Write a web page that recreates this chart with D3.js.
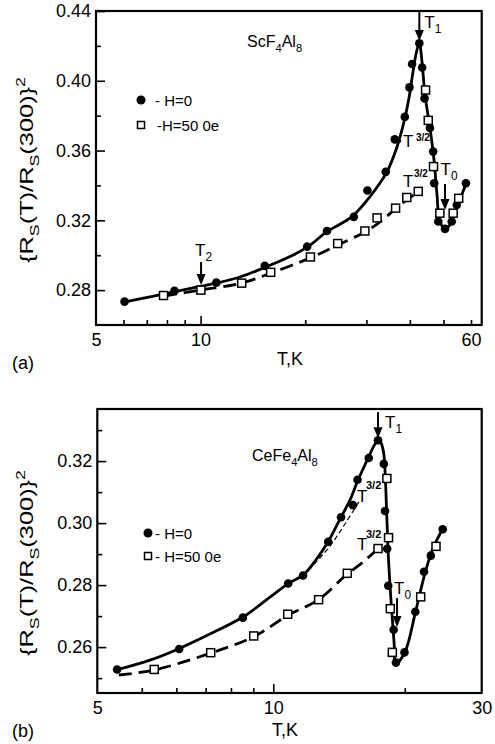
<!DOCTYPE html>
<html>
<head>
<meta charset="utf-8">
<script src="https://cdn.jsdelivr.net/npm/d3@7"></script>
<style>
  html, body { margin: 0; padding: 0; background: #fff; }
  svg { display: block; font-family: "Liberation Sans", Arial, Helvetica, sans-serif; }
</style>
</head>
<body>
<script>
// ---------- Panel (a): ScF4Al8 ----------
// measured points [T (K), {Rs(T)/Rs(300)}^2]
const aH0 = [
  [6.04, 0.2734], [8.41, 0.2796], [11.1, 0.2843], [15.3, 0.2939], [20.25, 0.3049],
  [23.1, 0.3139], [27.6, 0.3220], [30.2, 0.3371], [34.1, 0.3478], [36.2, 0.3664],
  [38.7, 0.3793], [39.9, 0.3962], [40.6, 0.4096], [42.6, 0.4215], [43.4, 0.4076],
  [44.1, 0.3899], [45.7, 0.3730], [46.7, 0.3594], [47.0, 0.3413], [48.3, 0.3193],
  [50.5, 0.3151], [52.8, 0.3193], [54.6, 0.3288], [58.0, 0.3413]
];
const aH500 = [
  [7.82, 0.2769], [10.02, 0.2800], [13.13, 0.2840], [15.91, 0.2902], [20.7, 0.2990],
  [24.8, 0.3067], [29.7, 0.3139], [32.2, 0.3214], [36.4, 0.3270], [39.2, 0.3331],
  [42.3, 0.3366], [44.4, 0.3947], [45.2, 0.3773], [46.8, 0.3508], [48.8, 0.3241],
  [53.3, 0.3241], [55.3, 0.3326]
];
// fitted curves
const aFitH0 = [
  [6.06, 0.2732], [7.15, 0.2761], [8.44, 0.2792], [9.96, 0.2821], [11.15, 0.2841],
  [12.98, 0.2875], [15.32, 0.2930], [18.08, 0.2992], [20.37, 0.3049], [23.1, 0.3135],
  [27.27, 0.3221], [30.72, 0.3336], [34.39, 0.3479], [36.74, 0.3622], [38.48, 0.3764],
  [39.78, 0.3901], [40.84, 0.4050], [41.8, 0.4165], [42.59, 0.4215], [43.36, 0.4108],
  [44.23, 0.3919], [45.72, 0.3729], [46.95, 0.3546], [47.9, 0.3345], [48.7, 0.3202],
  [50.5, 0.3148], [52.55, 0.3185], [54.69, 0.3277], [58.03, 0.3408]
];
const aFitH500 = [
  [7.85, 0.2766], [10.03, 0.2801], [13.16, 0.2841], [15.95, 0.2898], [20.64, 0.2984],
  [24.86, 0.3059], [29.72, 0.3133], [32.83, 0.3191], [37.48, 0.3288], [42.22, 0.3363]
];
const aFitT32 = [[33.48, 0.3431], [35.77, 0.3557], [37.72, 0.3661]];
const aYMajor = [0.28, 0.32, 0.36, 0.40, 0.44];
const aYMinor = [0.30, 0.34, 0.38, 0.42];
const aXMinor = [6, 7, 8, 9, 20, 30, 40, 50, 60];
const aXMajor = [10];
const aXLabelVals = [5, 10, 60];
const aXLabels = ["5", "10", "60"];

// ---------- Panel (b): CeFe4Al8 ----------
const bH0 = [
  [4.39, 0.2528], [6.09, 0.2594], [8.52, 0.2695], [10.82, 0.2805], [11.7, 0.2831],
  [13.36, 0.2940], [14.29, 0.3019], [15.22, 0.3058], [15.59, 0.3140], [16.54, 0.3210],
  [17.37, 0.3267], [17.91, 0.3191], [18.02, 0.3039], [18.23, 0.2917], [18.33, 0.2798],
  [18.86, 0.2656], [19.09, 0.2550], [19.97, 0.2583], [21.14, 0.2714], [22.13, 0.2843],
  [22.94, 0.2895], [24.43, 0.2980]
];
const bH500 = [
  [5.34, 0.2528], [7.19, 0.2582], [9.02, 0.2636], [10.79, 0.2706], [12.7, 0.2753],
  [14.77, 0.2838], [17.37, 0.2918], [18.2, 0.3144], [18.36, 0.2953], [18.53, 0.2724],
  [18.73, 0.2583], [21.75, 0.2762], [23.58, 0.2925]
];
const bFitH0 = [
  [4.39, 0.2527], [5.22, 0.2558], [6.08, 0.2595], [7.16, 0.2642], [8.52, 0.2697],
  [9.83, 0.2761], [10.81, 0.2805], [11.70, 0.2832], [12.52, 0.2881], [13.34, 0.2939],
  [14.29, 0.3019], [14.98, 0.3074], [15.63, 0.3139], [16.13, 0.3181], [16.65, 0.3223],
  [17.10, 0.3255], [17.37, 0.3265], [17.65, 0.3258], [17.88, 0.3229], [18.02, 0.3171],
  [18.17, 0.3042], [18.36, 0.2881], [18.65, 0.2726], [18.90, 0.2616], [19.10, 0.2548],
  [20.02, 0.2584], [21.16, 0.2713], [22.25, 0.2839], [23.21, 0.2919], [24.42, 0.2981]
];
const bFitH500 = [
  [4.43, 0.2510], [5.33, 0.2526], [7.20, 0.2581], [9.03, 0.2634], [10.81, 0.2703],
  [12.66, 0.2752], [14.75, 0.2835], [16.05, 0.2874], [17.37, 0.2918]
];
const bFitT32 = [[11.70, 0.2829], [12.52, 0.2874], [13.49, 0.2926], [14.59, 0.2997], [15.79, 0.3074]];
const bYMajor = [0.26, 0.28, 0.30, 0.32];
const bYMinor = [0.25, 0.27, 0.29, 0.31, 0.33];
const bXStart = 3.955;
const bXMinor = [5, 6, 7, 8, 9, 20];
const bXMajor = [10];
const bXLabelVals = [bXStart, 10, 30];
const bXLabels = ["5", "10", "30"];

// ---------- drawing ----------
const W = 495, H = 744;
const svg = d3.select("body").append("svg").attr("width", W).attr("height", H);

// text with subscript / superscript runs
function rich(parent, x, y, parts, size, anchor) {
  const t = parent.append("text").attr("x", x).attr("y", y)
    .attr("font-size", size).attr("text-anchor", anchor || "start").attr("fill", "#000");
  let cur = 0;
  parts.forEach(([s, k]) => {
    const target = k === "sub" ? size * 0.32 : k === "sup" ? -size * 0.42 : 0;
    const sp = t.append("tspan").text(s).attr("dy", target - cur).attr("fill", "#000");
    if (k) sp.attr("font-size", size * 0.7);
    cur = target;
  });
  return t;
}

function arrow(g, x, y1, y2) {
  g.append("line").attr("x1", x).attr("x2", x).attr("y1", y1).attr("y2", y2 - 8)
    .attr("stroke", "#000").attr("stroke-width", 2);
  g.append("path").attr("d", `M${x - 4.5},${y2 - 11}L${x + 4.5},${y2 - 11}L${x},${y2}Z`).attr("fill", "#000");
}

function panel(cfg) {
  const { x, y, h0, h500, fitH0, fitH500, fitT32 } = cfg;
  const g = svg.append("g");
  const [x0, x1] = x.range(), [y0, y1] = y.range();

  // axes: inward ticks
  const xAxis = g.append("g").attr("transform", `translate(0,${y0})`);
  xAxis.call(d3.axisBottom(x).tickValues(cfg.xMinor).tickSize(-5).tickFormat(() => ""));
  xAxis.append("g").call(d3.axisBottom(x).tickValues(cfg.xMajor).tickSize(-9).tickFormat(() => ""));
  g.append("g").attr("transform", `translate(0,${y0})`)
    .call(d3.axisBottom(x).tickValues(cfg.xLabelVals).tickSize(0).tickPadding(8)
      .tickFormat((d, i) => cfg.xLabels[i]));
  const yAxis = g.append("g").attr("transform", `translate(${x0},0)`);
  yAxis.call(d3.axisLeft(y).tickValues(cfg.yMinor).tickSize(-5).tickFormat(() => ""));
  yAxis.append("g").call(d3.axisLeft(y).tickValues(cfg.yMajor).tickSize(-9).tickPadding(5)
    .tickFormat(d3.format(".2f")));
  g.selectAll(".domain").remove();
  g.selectAll(".tick line").attr("stroke", "#000").attr("stroke-width", 1.6);
  g.selectAll(".tick text").attr("font-size", 18).attr("fill", "#000")
    .attr("font-family", "Liberation Sans, Arial, sans-serif");

  // frame
  g.append("rect").attr("x", x0).attr("y", y1).attr("width", x1 - x0).attr("height", y0 - y1)
    .attr("fill", "none").attr("stroke", "#000").attr("stroke-width", 2.2);

  const line = d3.line().x(d => x(d[0])).y(d => y(d[1])).curve(d3.curveCatmullRom.alpha(0.5));
  g.append("path").attr("d", line(fitT32)).attr("fill", "none").attr("stroke", "#000")
    .attr("stroke-width", 1.2).attr("stroke-dasharray", "5,3");
  g.append("path").attr("d", line(fitH500)).attr("fill", "none").attr("stroke", "#000")
    .attr("stroke-width", 2.8).attr("stroke-dasharray", "13,7");
  g.append("path").attr("d", line(fitH0)).attr("fill", "none").attr("stroke", "#000")
    .attr("stroke-width", 2.8);

  g.selectAll("circle.h0").data(h0).join("circle").attr("class", "h0")
    .attr("cx", d => x(d[0])).attr("cy", d => y(d[1])).attr("r", 4.3).attr("fill", "#000");
  g.selectAll("rect.h500").data(h500).join("rect").attr("class", "h500")
    .attr("x", d => x(d[0]) - 4).attr("y", d => y(d[1]) - 4).attr("width", 8).attr("height", 8)
    .attr("fill", "#fff").attr("stroke", "#000").attr("stroke-width", 1.5);
  return g;
}

// ----- panel (a)
const xA = d3.scaleLog().domain([5, 64.4]).range([96, 481.7]);
const yA = d3.scaleLinear().domain([0.26, 0.44]).range([325, 11]);
const gA = panel({
  x: xA, y: yA, h0: aH0, h500: aH500, fitH0: aFitH0, fitH500: aFitH500, fitT32: aFitT32,
  xMinor: aXMinor, xMajor: aXMajor, xLabelVals: aXLabelVals, xLabels: aXLabels,
  yMajor: aYMajor, yMinor: aYMinor
});
rich(gA, 247, 47, [["ScF"], ["4", "sub"], ["Al"], ["8", "sub"]], 16);
arrow(gA, xA(42.6), yA(0.4394), yA(0.4228));
rich(gA, xA(42.6) + 5, 28, [["T"], ["1", "sub"]], 17);
arrow(gA, xA(10.03), yA(0.2961), yA(0.2829));
rich(gA, xA(10.03) - 6, 256, [["T"], ["2", "sub"]], 17);
arrow(gA, xA(50.5), yA(0.3408), yA(0.3259));
rich(gA, xA(50.5) - 4.5, 175, [["T"], ["0", "sub"]], 17);
gA.append("text").attr("x", 403).attr("y", 147).attr("font-size", 17).text("T");
gA.append("text").attr("x", 416).attr("y", 141).attr("font-size", 10).attr("font-weight", "bold").text("3/2");
gA.append("text").attr("x", 403).attr("y", 187).attr("font-size", 17).text("T");
gA.append("text").attr("x", 414).attr("y", 177).attr("font-size", 10).attr("font-weight", "bold").text("3/2");
// legend
gA.append("circle").attr("cx", 141).attr("cy", 100).attr("r", 4.5).attr("fill", "#000");
gA.append("text").attr("x", 155).attr("y", 105.5).attr("font-size", 15).text("- H=0");
gA.append("rect").attr("x", 137.5).attr("y", 121.5).attr("width", 7).attr("height", 7)
  .attr("fill", "#fff").attr("stroke", "#000").attr("stroke-width", 1.5);
gA.append("text").attr("x", 157).attr("y", 130.5).attr("font-size", 15).text("-H=50 0e");
// titles
rich(gA, 290, 365, [["T,K"]], 18, "middle");
rich(gA.append("g").attr("transform", "translate(33,170) rotate(-90)"), 0, 0,
  [["{R"], ["S", "sub"], ["(T)/R"], ["S", "sub"], ["(300)}"], ["2", "sup"]], 18, "middle")
  .attr("textLength", 186).attr("lengthAdjust", "spacingAndGlyphs");
gA.append("text").attr("x", 12).attr("y", 369).attr("font-size", 18).text("(a)");

// ----- panel (b)
const xB = d3.scaleLog().domain([bXStart, 30]).range([97.3, 481.7]);
const yB = d3.scaleLinear().domain([0.2452, 0.3368]).range([693, 409]);
const gB = panel({
  x: xB, y: yB, h0: bH0, h500: bH500, fitH0: bFitH0, fitH500: bFitH500, fitT32: bFitT32,
  xMinor: bXMinor, xMajor: bXMajor, xLabelVals: bXLabelVals, xLabels: bXLabels,
  yMajor: bYMajor, yMinor: bYMinor
});
rich(gB, 252, 461, [["CeFe"], ["4", "sub"], ["Al"], ["8", "sub"]], 16);
arrow(gB, xB(17.37), yB(0.3358), yB(0.3274));
rich(gB, xB(17.37) + 7, 428, [["T"], ["1", "sub"]], 17);
arrow(gB, xB(19.2), yB(0.2758), yB(0.2665));
rich(gB, xB(19.2) - 3, 594, [["T"], ["0", "sub"]], 17);
gB.append("text").attr("x", 357).attr("y", 502).attr("font-size", 17).text("T");
gB.append("text").attr("x", 366).attr("y", 489).attr("font-size", 11).attr("font-weight", "bold").text("3/2");
gB.append("text").attr("x", 357).attr("y", 550).attr("font-size", 17).text("T");
gB.append("text").attr("x", 366).attr("y", 538).attr("font-size", 11).attr("font-weight", "bold").text("3/2");
// legend
gB.append("circle").attr("cx", 148).attr("cy", 533).attr("r", 4.5).attr("fill", "#000");
gB.append("text").attr("x", 155).attr("y", 538.5).attr("font-size", 15).text("- H=0");
gB.append("rect").attr("x", 144.5).attr("y", 552.5).attr("width", 7).attr("height", 7)
  .attr("fill", "#fff").attr("stroke", "#000").attr("stroke-width", 1.5);
gB.append("text").attr("x", 155).attr("y", 561.5).attr("font-size", 15).text("- H=50 0e");
// titles
rich(gB, 285, 736, [["T,K"]], 18, "middle");
rich(gB.append("g").attr("transform", "translate(33,563) rotate(-90)"), 0, 0,
  [["{R"], ["S", "sub"], ["(T)/R"], ["S", "sub"], ["(300)}"], ["2", "sup"]], 18, "middle")
  .attr("textLength", 186).attr("lengthAdjust", "spacingAndGlyphs");
gB.append("text").attr("x", 12).attr("y", 737).attr("font-size", 18).text("(b)");
</script>
</body>
</html>
